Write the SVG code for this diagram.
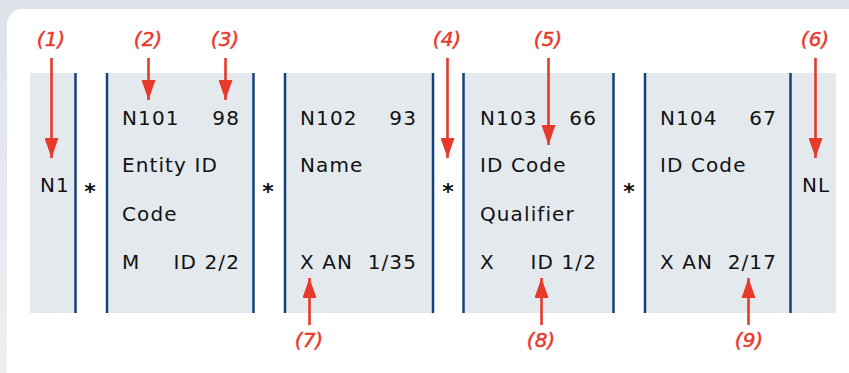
<svg xmlns="http://www.w3.org/2000/svg" width="849" height="373" viewBox="0 0 849 373">
  <defs>
    <linearGradient id="shadeTop" x1="0" y1="0" x2="0" y2="1">
      <stop offset="0" stop-color="#dde1e9"/>
      <stop offset="1" stop-color="#eceff3"/>
    </linearGradient>
    <marker id="tip" viewBox="0 0 20 14" refX="20" refY="7" markerWidth="20" markerHeight="14" markerUnits="userSpaceOnUse" orient="auto">
      <path d="M0,0 L20,7 L0,14 Z" fill="#e8392d"/>
    </marker>
  </defs>
  <style>
    .cell { fill: #e4e9ee; }
    .bar { stroke: #15427a; stroke-width: 2.5; }
    .t { font-family: "DejaVu Sans", Verdana, sans-serif; font-size: 20px; letter-spacing: 1.1px; fill: #111111; }
    .star { font-family: "DejaVu Sans", sans-serif; font-size: 22px; font-weight: bold; fill: #111111; text-anchor: middle; }
    .num { font-family: "DejaVu Sans", sans-serif; font-size: 20px; font-style: italic; fill: #e8392d; stroke: #e8392d; stroke-width: 0.5; text-anchor: middle; }
    .arrow { stroke: #e8392d; stroke-width: 2.6; fill: none; }
  </style>

  <!-- frame: soft edge and white panel -->
  <rect x="-20" y="-20" width="900" height="393" rx="14" fill="url(#shadeTop)"/>
  <rect x="7" y="9" width="870" height="400" rx="15" fill="#ffffff"/>

  <!-- segment cells -->
  <g id="n1">
    <rect class="cell" x="30" y="73" width="45" height="240"/>
    <text class="t" x="40" y="192">N1</text>
  </g>
  <g id="n101">
    <rect class="cell" x="107" y="73" width="146" height="240"/>
    <text class="t" x="122" y="125">N101</text>
    <text class="t" x="240" y="125" text-anchor="end">98</text>
    <text class="t" x="122" y="172">Entity ID</text>
    <text class="t" x="122" y="221">Code</text>
    <text class="t" x="122" y="269">M</text>
    <text class="t" x="240" y="269" text-anchor="end">ID 2/2</text>
  </g>
  <g id="n102">
    <rect class="cell" x="285" y="73" width="148" height="240"/>
    <text class="t" x="300" y="125">N102</text>
    <text class="t" x="417" y="125" text-anchor="end">93</text>
    <text class="t" x="300" y="172">Name</text>
    <text class="t" x="300" y="269">X AN</text>
    <text class="t" x="417" y="269" text-anchor="end">1/35</text>
  </g>
  <g id="n103">
    <rect class="cell" x="463" y="73" width="150" height="240"/>
    <text class="t" x="480" y="125">N103</text>
    <text class="t" x="597" y="125" text-anchor="end">66</text>
    <text class="t" x="480" y="172">ID Code</text>
    <text class="t" x="480" y="221">Qualifier</text>
    <text class="t" x="480" y="269">X</text>
    <text class="t" x="597" y="269" text-anchor="end">ID 1/2</text>
  </g>
  <g id="n104">
    <rect class="cell" x="645" y="73" width="145" height="240"/>
    <text class="t" x="660" y="125">N104</text>
    <text class="t" x="777" y="125" text-anchor="end">67</text>
    <text class="t" x="660" y="172">ID Code</text>
    <text class="t" x="660" y="269">X AN</text>
    <text class="t" x="777" y="269" text-anchor="end">2/17</text>
  </g>
  <g id="nl">
    <rect class="cell" x="790" y="73" width="46" height="240"/>
    <text class="t" x="802" y="192">NL</text>
  </g>

  <!-- separators -->
  <g id="separators">
    <line class="bar" x1="75.5" y1="73" x2="75.5" y2="313"/>
    <line class="bar" x1="107" y1="73" x2="107" y2="313"/>
    <line class="bar" x1="253.5" y1="73" x2="253.5" y2="313"/>
    <line class="bar" x1="285" y1="73" x2="285" y2="313"/>
    <line class="bar" x1="433" y1="73" x2="433" y2="313"/>
    <line class="bar" x1="463.5" y1="73" x2="463.5" y2="313"/>
    <line class="bar" x1="613.5" y1="73" x2="613.5" y2="313"/>
    <line class="bar" x1="645" y1="73" x2="645" y2="313"/>
    <line class="bar" x1="790.5" y1="73" x2="790.5" y2="313"/>
    <text class="star" x="90" y="199">*</text>
    <text class="star" x="268" y="199">*</text>
    <text class="star" x="448" y="199">*</text>
    <text class="star" x="629" y="199">*</text>
  </g>

  <!-- callouts -->
  <g id="callouts">
    <text class="num" x="51" y="46">(1)</text>
    <text class="num" x="148" y="46">(2)</text>
    <text class="num" x="225" y="46">(3)</text>
    <text class="num" x="447" y="46">(4)</text>
    <text class="num" x="548" y="46">(5)</text>
    <text class="num" x="815" y="46">(6)</text>
    <text class="num" x="309" y="347">(7)</text>
    <text class="num" x="541" y="347">(8)</text>
    <text class="num" x="749" y="347">(9)</text>
  </g>
  <g id="connectors">
    <line class="arrow" x1="51.5" y1="58" x2="51.5" y2="158" marker-end="url(#tip)"/>
    <line class="arrow" x1="148.5" y1="58" x2="148.5" y2="100" marker-end="url(#tip)"/>
    <line class="arrow" x1="225.5" y1="58" x2="225.5" y2="100" marker-end="url(#tip)"/>
    <line class="arrow" x1="447.5" y1="58" x2="447.5" y2="158" marker-end="url(#tip)"/>
    <line class="arrow" x1="548.5" y1="58" x2="548.5" y2="145" marker-end="url(#tip)"/>
    <line class="arrow" x1="815.5" y1="58" x2="815.5" y2="158" marker-end="url(#tip)"/>
    <line class="arrow" x1="309.5" y1="325" x2="309.5" y2="278" marker-end="url(#tip)"/>
    <line class="arrow" x1="541.5" y1="325" x2="541.5" y2="278" marker-end="url(#tip)"/>
    <line class="arrow" x1="748.5" y1="325" x2="748.5" y2="278" marker-end="url(#tip)"/>
  </g>
</svg>
